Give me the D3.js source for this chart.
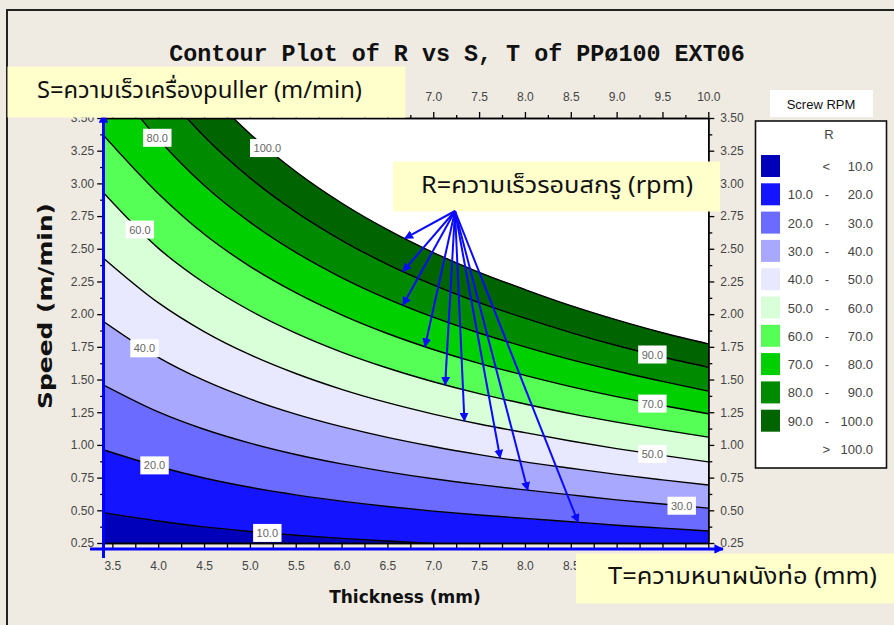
<!DOCTYPE html>
<html>
<head>
<meta charset="utf-8">
<script src="https://cdnjs.cloudflare.com/ajax/libs/d3/7.8.5/d3.min.js"></script>
<style>
  html, body { margin: 0; padding: 0; background: #efebe2; }
  svg { display: block; }
</style>
</head>
<body>
<svg id="chart" width="894" height="625"></svg>
<script>
// thickness samples (mm) along each contour
var thickness = [3.4, 4.0, 4.5, 5.0, 5.5, 6.0, 6.5, 7.0, 7.5, 8.0, 8.5, 9.0, 9.5, 10.0];

// speed (m/min) where each contour level crosses the thickness samples
var contour10  = [0.482, 0.418, 0.373, 0.338, 0.309, 0.285, 0.265, 0.247, 0.232, 0.219, 0.207, 0.196, 0.186, 0.177];
var contour20  = [0.963, 0.835, 0.747, 0.676, 0.618, 0.570, 0.529, 0.494, 0.464, 0.438, 0.413, 0.386, 0.364, 0.342];
var contour30  = [1.460, 1.253, 1.120, 1.014, 0.927, 0.855, 0.794, 0.741, 0.696, 0.656, 0.618, 0.580, 0.548, 0.517];
var contour40  = [1.945, 1.670, 1.493, 1.352, 1.236, 1.140, 1.058, 0.988, 0.926, 0.870, 0.822, 0.775, 0.733, 0.693];
var contour50  = [2.430, 2.088, 1.867, 1.690, 1.546, 1.425, 1.323, 1.236, 1.160, 1.094, 1.030, 0.972, 0.920, 0.870];
var contour60  = [2.930, 2.505, 2.240, 2.028, 1.855, 1.710, 1.588, 1.483, 1.392, 1.313, 1.239, 1.174, 1.115, 1.060];
var contour70  = [3.370, 2.923, 2.613, 2.366, 2.164, 1.995, 1.852, 1.730, 1.624, 1.532, 1.446, 1.369, 1.301, 1.238];
var contour80  = [3.859, 3.340, 2.986, 2.704, 2.473, 2.280, 2.117, 1.977, 1.856, 1.750, 1.652, 1.565, 1.486, 1.411];
var contour90  = [4.342, 3.758, 3.360, 3.042, 2.782, 2.565, 2.381, 2.224, 2.088, 1.969, 1.859, 1.760, 1.672, 1.594];
var contour100 = [4.824, 4.175, 3.733, 3.380, 3.091, 2.850, 2.646, 2.471, 2.320, 2.188, 2.065, 1.956, 1.858, 1.773];

var levels = [10, 20, 30, 40, 50, 60, 70, 80, 90, 100];
var contours = [contour10, contour20, contour30, contour40, contour50, contour60, contour70, contour80, contour90, contour100];

// band colours: < 10, 10-20, ... 90-100 (> 100 is white)
var bandColors = ['#0000bb', '#1414ff', '#6b6bff', '#a8a8ff', '#e8e8ff', '#d8ffd8', '#55ff55', '#00d000', '#008a00', '#006400'];

// where the contour labels sit (thickness)
var labelT = [5.19, 3.96, 9.71, 3.85, 9.39, 3.80, 9.39, 3.99, 9.39, 5.19];

// where the annotation arrows touch each contour (level -> thickness)
var arrowLevels = [100, 90, 80, 70, 60, 50, 40, 30, 20];
var arrowT = [6.69, 6.67, 6.67, 6.91, 7.13, 7.34, 7.73, 8.03, 8.58];

var xTicks = [3.5, 4.0, 4.5, 5.0, 5.5, 6.0, 6.5, 7.0, 7.5, 8.0, 8.5, 9.0, 9.5, 10.0];
var yTicks = [0.25, 0.50, 0.75, 1.00, 1.25, 1.50, 1.75, 2.00, 2.25, 2.50, 2.75, 3.00, 3.25, 3.50];
// tick labels not hidden under the note boxes
var topLabels = [7.0, 7.5, 8.0, 8.5, 9.0, 9.5, 10.0];
var bottomLabels = [3.5, 4.0, 4.5, 5.0, 5.5, 6.0, 6.5, 7.0, 7.5, 8.0, 8.5];

var svg = d3.select('#chart');
var font = '"Liberation Sans", Arial, sans-serif';
var thaiFont = 'Tahoma, "Noto Sans Thai", Loma, Garuda, "DejaVu Sans", "Liberation Sans", sans-serif';

// frame
svg.append('rect').attr('x', 0).attr('y', 0).attr('width', 894).attr('height', 625).attr('fill', '#efebe2');
svg.append('path').attr('d', 'M7,625 L7,10 L894,10').attr('fill', 'none').attr('stroke', '#222').attr('stroke-width', 2);

var x = d3.scaleLinear().domain([3.4, 10.0]).range([103.2, 708.3]);
var y = d3.scaleLinear().domain([0.25, 3.5]).range([543, 118]);

var x0 = x.range()[0], x1 = x.range()[1], y0 = y.range()[1], y1 = y.range()[0];

var defs = svg.append('defs');
defs.append('clipPath').attr('id', 'plotclip')
  .append('rect').attr('x', x0).attr('y', y0).attr('width', x1 - x0).attr('height', y1 - y0);

svg.append('rect').attr('x', x0).attr('y', y0).attr('width', x1 - x0).attr('height', y1 - y0).attr('fill', '#fff');

var plot = svg.append('g').attr('clip-path', 'url(#plotclip)');

var curve = d3.curveMonotoneX;

// filled bands
bandColors.forEach(function(col, i) {
  var upper = contours[i];
  var lower = i === 0 ? null : contours[i - 1];
  var area = d3.area()
    .x(function(d, j) { return x(thickness[j]); })
    .y0(function(d, j) { return lower ? y(lower[j]) : y1 + 20; })
    .y1(function(d, j) { return y(upper[j]); })
    .curve(curve);
  plot.append('path').attr('d', area(thickness)).attr('fill', col).attr('stroke', col).attr('stroke-width', 0.5);
});

// contour lines
var line = d3.line()
  .x(function(d, j) { return x(thickness[j]); })
  .y(function(d) { return y(d); })
  .curve(curve);
contours.forEach(function(c) {
  plot.append('path').attr('d', line(c)).attr('fill', 'none').attr('stroke', '#000').attr('stroke-width', 1.4);
});

// contour labels
contours.forEach(function(c, i) {
  var s = d3.scaleLinear().domain(thickness).range(c);
  var lx = x(labelT[i]), ly = y(s(labelT[i]));
  var g = plot.append('g');
  var t = g.append('text').attr('x', lx).attr('y', ly + 4)
    .attr('text-anchor', 'middle').attr('font-family', font).attr('font-size', 11)
    .attr('fill', '#666').text(levels[i].toFixed(1));
  var w = t.node().getComputedTextLength() + 7;
  g.insert('rect', 'text').attr('x', lx - w / 2).attr('y', ly - 9).attr('width', w).attr('height', 18).attr('fill', '#fff');
});

// axes
function styleAxis(g) {
  g.select('.domain').attr('stroke', '#000').attr('stroke-width', 1.5);
  g.selectAll('.tick line').attr('stroke', '#000').attr('stroke-width', 1.3);
  g.selectAll('.tick text').attr('fill', '#444').attr('font-family', font).attr('font-size', 12);
}
function minor(ticks) {
  var out = [];
  for (var i = 0; i < ticks.length - 1; i++) out.push((ticks[i] + ticks[i + 1]) / 2);
  return out;
}
var xMinor = minor(xTicks);
var yMinor = minor(yTicks);
function labelIf(list, fmt) {
  return function(d) { return list.indexOf(d) >= 0 ? fmt(d) : ''; };
}
var f1 = d3.format('.1f'), f2 = d3.format('.2f');

svg.append('g').attr('transform', 'translate(0,' + y0 + ')')
  .call(d3.axisTop(x).tickValues(xMinor).tickSize(3).tickSizeOuter(0).tickFormat(''))
  .call(styleAxis);
svg.append('g').attr('transform', 'translate(0,' + y0 + ')')
  .call(d3.axisTop(x).tickValues(xTicks).tickSize(6).tickPadding(11).tickSizeOuter(0).tickFormat(labelIf(topLabels, f1)))
  .call(styleAxis);

svg.append('g').attr('transform', 'translate(0,' + y1 + ')')
  .call(d3.axisBottom(x).tickValues(xMinor).tickSize(5).tickSizeOuter(0).tickFormat(''))
  .call(styleAxis);
svg.append('g').attr('transform', 'translate(0,' + y1 + ')')
  .call(d3.axisBottom(x).tickValues(xTicks).tickSize(6).tickPadding(12).tickSizeOuter(0).tickFormat(labelIf(bottomLabels, f1)))
  .call(styleAxis);

svg.append('g').attr('transform', 'translate(' + x0 + ',0)')
  .call(d3.axisLeft(y).tickValues(yMinor).tickSize(3).tickSizeOuter(0).tickFormat(''))
  .call(styleAxis);
svg.append('g').attr('transform', 'translate(' + x0 + ',0)')
  .call(d3.axisLeft(y).tickValues(yTicks).tickSize(6).tickPadding(3).tickSizeOuter(0).tickFormat(f2))
  .call(styleAxis);

svg.append('g').attr('transform', 'translate(' + x1 + ',0)')
  .call(d3.axisRight(y).tickValues(yMinor).tickSize(4).tickSizeOuter(0).tickFormat(''))
  .call(styleAxis);
svg.append('g').attr('transform', 'translate(' + x1 + ',0)')
  .call(d3.axisRight(y).tickValues(yTicks).tickSize(6).tickPadding(6).tickSizeOuter(0).tickFormat(f2))
  .call(styleAxis);

// axis titles
svg.append('text').attr('x', 405).attr('y', 603).attr('text-anchor', 'middle')
  .attr('font-family', '"DejaVu Sans", Verdana, sans-serif').attr('font-weight', 'bold').attr('font-size', 17)
  .attr('fill', '#111').text('Thickness (mm)');
svg.append('text').attr('transform', 'translate(52,306) rotate(-90)').attr('text-anchor', 'middle')
  .attr('font-family', '"DejaVu Sans", Verdana, sans-serif').attr('font-weight', 'bold').attr('font-size', 20)
  .attr('fill', '#111').attr('textLength', 206).attr('lengthAdjust', 'spacingAndGlyphs').text('Speed (m/min)');

// title
svg.append('text').attr('x', 457).attr('y', 61).attr('text-anchor', 'middle')
  .attr('font-family', '"Liberation Mono", "Courier New", monospace').attr('font-weight', 'bold')
  .attr('font-size', 23.4).attr('fill', '#111').text('Contour Plot of R vs S, T of PPø100 EXT06');

// legend
svg.append('rect').attr('x', 770).attr('y', 90).attr('width', 103).attr('height', 27).attr('fill', '#fff');
svg.append('text').attr('x', 821).attr('y', 109).attr('text-anchor', 'middle')
  .attr('font-family', font).attr('font-size', 13).attr('fill', '#111').text('Screw RPM');
svg.append('rect').attr('x', 755.5).attr('y', 121).attr('width', 131).attr('height', 347)
  .attr('fill', '#fff').attr('stroke', '#111').attr('stroke-width', 1.6);
svg.append('text').attr('x', 829).attr('y', 139).attr('text-anchor', 'middle')
  .attr('font-family', font).attr('font-size', 13).attr('fill', '#444').text('R');

var rowH = 28.3, row0 = 166;
bandColors.forEach(function(col, i) {
  var cy = row0 + i * rowH;
  svg.append('rect').attr('x', 761).attr('y', cy - 11).attr('width', 19).attr('height', 22).attr('fill', col);
  var lg = svg.append('g').attr('font-family', font).attr('font-size', 13).attr('fill', '#444');
  if (i === 0) {
    lg.append('text').attr('x', 830).attr('y', cy + 5).attr('text-anchor', 'end').text('<');
  } else {
    lg.append('text').attr('x', 813).attr('y', cy + 5).attr('text-anchor', 'end').text(levels[i - 1].toFixed(1));
    lg.append('text').attr('x', 829).attr('y', cy + 5).attr('text-anchor', 'end').text('-');
  }
  lg.append('text').attr('x', 873).attr('y', cy + 5).attr('text-anchor', 'end').text(levels[i].toFixed(1));
});
var lastY = row0 + bandColors.length * rowH;
svg.append('text').attr('x', 830).attr('y', lastY + 5).attr('text-anchor', 'end')
  .attr('font-family', font).attr('font-size', 13).attr('fill', '#444').text('>');
svg.append('text').attr('x', 873).attr('y', lastY + 5).attr('text-anchor', 'end')
  .attr('font-family', font).attr('font-size', 13).attr('fill', '#444').text(levels[levels.length - 1].toFixed(1));

// arrow markers
defs.append('marker').attr('id', 'head').attr('viewBox', '0 0 10 10').attr('refX', 9).attr('refY', 5)
  .attr('markerWidth', 4.5).attr('markerHeight', 4.5).attr('markerUnits', 'strokeWidth').attr('orient', 'auto')
  .append('path').attr('d', 'M0,0 L10,5 L0,10 z').attr('fill', '#0a0aff');
defs.append('marker').attr('id', 'headAxis').attr('viewBox', '0 0 10 10').attr('refX', 9).attr('refY', 5)
  .attr('markerWidth', 3.2).attr('markerHeight', 3.2).attr('markerUnits', 'strokeWidth').attr('orient', 'auto')
  .append('path').attr('d', 'M0,0 L10,5 L0,10 z').attr('fill', '#0000ff');

// blue axis arrows
svg.append('line').attr('x1', 103.5).attr('y1', 558).attr('x2', 103.5).attr('y2', 114)
  .attr('stroke', '#0000ff').attr('stroke-width', 3).attr('marker-end', 'url(#headAxis)');
svg.append('line').attr('x1', 90).attr('y1', 549).attr('x2', 723).attr('y2', 549)
  .attr('stroke', '#0000ff').attr('stroke-width', 3).attr('marker-end', 'url(#headAxis)');

// annotation boxes
function noteBox(bx, by, bw, bh, tx, ty, tw, txt) {
  svg.append('rect').attr('x', bx).attr('y', by).attr('width', bw).attr('height', bh).attr('fill', '#ffffcc');
  svg.append('text').attr('x', tx).attr('y', ty).attr('font-family', thaiFont).attr('font-size', 23)
    .attr('textLength', tw).attr('lengthAdjust', 'spacingAndGlyphs')
    .attr('fill', '#111').text(txt);
}
noteBox(7.5, 66.5, 398, 51, 37, 98, 325, 'S=ความเร็วเครื่องpuller (m/min)');
noteBox(393, 161.5, 327, 50, 421, 193, 272, 'R=ความเร็วรอบสกรู (rpm)');
noteBox(576, 553.5, 318, 50, 608, 584, 269, 'T=ความหนาผนังท่อ (mm)');

// arrows from the R note to the contour lines
arrowLevels.forEach(function(lv, i) {
  var c = contours[levels.indexOf(lv)];
  var s = d3.scaleLinear().domain(thickness).range(c);
  var tx = x(arrowT[i]), ty = y(s(arrowT[i]));
  svg.append('line').attr('x1', 455).attr('y1', 211).attr('x2', tx).attr('y2', ty)
    .attr('stroke', '#0a0aff').attr('stroke-width', 2).attr('marker-end', 'url(#head)');
});
</script>
</body>
</html>
